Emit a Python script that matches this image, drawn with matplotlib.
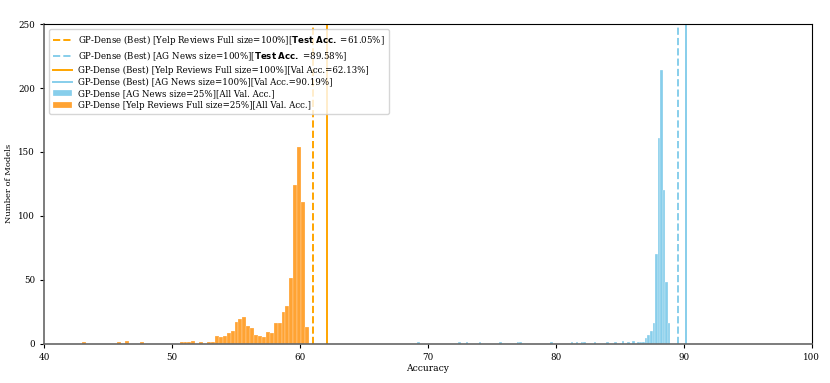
import numpy as np
import matplotlib
matplotlib.use('Agg')
import matplotlib.pyplot as plt

plt.rcParams['font.family'] = 'DejaVu Serif'

# histogram counts (number of models per accuracy bin)
yelp_start, yelp_width = 42.94, 0.3064
yelp_counts = [1, 0, 0, 0, 0, 0, 0, 0, 0, 1,
               0, 2, 0, 0, 0, 1, 0, 0, 0, 0,
               0, 0, 0, 0, 0, 1, 1, 1, 2, 0,
               1, 0, 1, 1, 6, 5, 6, 8, 10, 17,
               19, 21, 14, 12, 7, 6, 5, 9, 8, 16,
               16, 25, 29, 51, 124, 154, 111, 13]

ag_start, ag_width = 68.96, 0.2
ag_counts = [0, 1, 0, 0, 0, 0, 0, 0, 0, 0,
             0, 0, 0, 0, 0, 0, 0, 1, 0, 0,
             1, 0, 0, 0, 0, 1, 0, 0, 0, 0,
             0, 0, 0, 1, 0, 0, 0, 0, 0, 0,
             1, 1, 0, 0, 0, 0, 0, 0, 0, 0,
             0, 0, 0, 1, 0, 0, 0, 0, 0, 0,
             0, 1, 0, 1, 0, 1, 1, 0, 0, 0,
             1, 0, 0, 0, 0, 1, 0, 0, 1, 0,
             0, 2, 0, 1, 0, 2, 0, 1, 1, 1,
             4, 7, 10, 16, 70, 161, 214, 120, 48, 16]

# best models
yelp_test_acc, ag_test_acc = 61.05, 89.58
yelp_val_acc, ag_val_acc = 62.13, 90.19

orange = '#FFA500'
blue = 'skyblue'
bold_test = r'$\bf{Test\ Acc.}$'

fig = plt.figure(figsize=(8.3, 3.83), dpi=100)
ax = fig.add_axes([0.053, 0.103, 0.925, 0.834])

ax.axvline(yelp_test_acc, color=orange, ls='--', lw=1.4,
           label=f'GP-Dense (Best) [Yelp Reviews Full size=100%][{bold_test} ={yelp_test_acc:.2f}%]')
ax.axvline(ag_test_acc, color=blue, ls='--', lw=1.4,
           label=f'GP-Dense (Best) [AG News size=100%][{bold_test} ={ag_test_acc:.2f}%]')
ax.axvline(yelp_val_acc, color=orange, lw=1.4,
           label=f'GP-Dense (Best) [Yelp Reviews Full size=100%][Val Acc.={yelp_val_acc:.2f}%]')
ax.axvline(ag_val_acc, color=blue, lw=1.4,
           label=f'GP-Dense (Best) [AG News size=100%][Val Acc.={ag_val_acc:.2f}%]')

ag_edges = ag_start + ag_width * np.arange(len(ag_counts) + 1)
ax.hist(ag_edges[:-1] + ag_width / 2, bins=ag_edges, weights=ag_counts,
        color=blue, ec='white', lw=0.2,
        label='GP-Dense [AG News size=25%][All Val. Acc.]')

yelp_edges = yelp_start + yelp_width * np.arange(len(yelp_counts) + 1)
ax.hist(yelp_edges[:-1] + yelp_width / 2, bins=yelp_edges, weights=yelp_counts,
        color='darkorange', alpha=0.8, ec='white', lw=0.2,
        label='GP-Dense [Yelp Reviews Full size=25%][All Val. Acc.]')

ax.set_xlim(40, 100)
ax.set_ylim(0, 250)
ax.set_xticks(range(40, 101, 10))
ax.set_yticks(range(0, 251, 50))
ax.tick_params(labelsize=6.3, length=3, width=0.8)
ax.set_xlabel('Accuracy', fontsize=6.6, labelpad=2)
ax.set_ylabel('Number of Models', fontsize=6, labelpad=4)

for s in ['left', 'bottom']:
    ax.spines[s].set_color('#666666')
    ax.spines[s].set_linewidth(1.2)

ax.legend(loc='upper left', fontsize=6.2, handlelength=2.2, labelspacing=0.32,
          borderaxespad=0.6)

plt.savefig('out.png', dpi=100)
